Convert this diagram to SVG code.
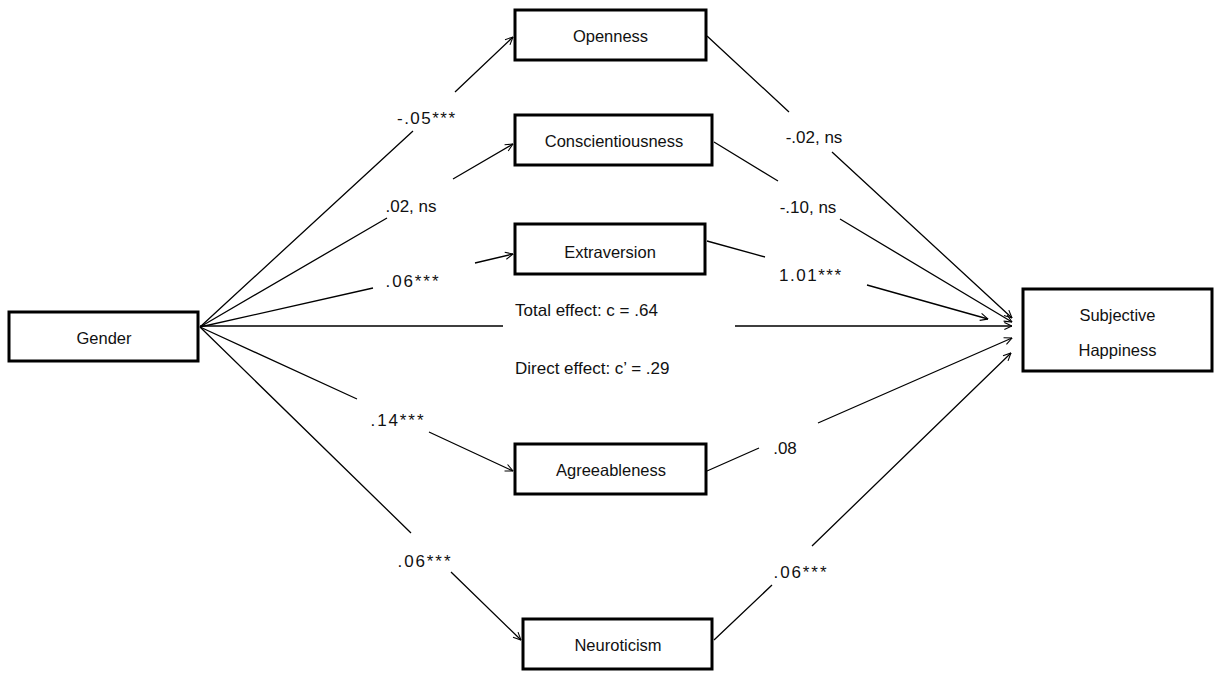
<svg xmlns="http://www.w3.org/2000/svg" width="1224" height="680" viewBox="0 0 1224 680">
<style>
.box{fill:#fff;stroke:#000;stroke-width:3}
.nl{font-family:"Liberation Sans",Arial,sans-serif;font-size:16.5px;fill:#111;text-anchor:middle}
.el{font-family:"Liberation Sans",Arial,sans-serif;font-size:17px;fill:#111;text-anchor:middle}
.tl{font-family:"Liberation Sans",Arial,sans-serif;font-size:17px;fill:#111}
.cn{fill:none;stroke:#000;stroke-width:1.3;marker-end:url(#ah)}
</style>
<defs>
<marker id="ah" viewBox="0 0 10 10" refX="9.5" refY="5" markerWidth="9" markerHeight="9" markerUnits="userSpaceOnUse" orient="auto">
<path d="M1,1 L9.5,5 L1,9" fill="none" stroke="#000" stroke-width="1.2"/>
</marker>
</defs>
<rect width="1224" height="680" fill="#fff"/>
<g id="connectors">
<path class="cn" d="M200,327 L413,131 M455,92 L513,37"/>
<path class="cn" d="M200,327 L387,218 M453,179 L513,144"/>
<path class="cn" d="M200,327 L373,288 M475,263 L513,254"/>
<path class="cn" d="M200,327 L357,399 M429,432 L513,471"/>
<path class="cn" d="M200,327 L411,533 M451,572 L521,640"/>
<path class="cn" d="M200,326 L503,326 M735,326 L1012,326"/>
<path class="cn" d="M707,36 L789,112 M832,152 L1012,318"/>
<path class="cn" d="M714,142 L778,181 M840,219 L1012,322"/>
<path class="cn" d="M707,241 L765,257 M867,285 L988,319"/>
<path class="cn" d="M707,471 L759,448 M818,423 L1012,338"/>
<path class="cn" d="M714,640 L772,585 M812,546 L1011,353"/>
</g>
<g id="edge-labels">
<text class="el" x="426" y="124" textLength="58" lengthAdjust="spacing">-.05***</text>
<text class="el" x="411" y="212">.02, ns</text>
<text class="el" x="412" y="287" textLength="53" lengthAdjust="spacing">.06***</text>
<text class="el" x="814" y="143">-.02, ns</text>
<text class="el" x="808" y="213">-.10, ns</text>
<text class="el" x="810" y="281" textLength="62" lengthAdjust="spacing">1.01***</text>
<text class="el" x="397" y="426" textLength="53" lengthAdjust="spacing">.14***</text>
<text class="el" x="424" y="567" textLength="53" lengthAdjust="spacing">.06***</text>
<text class="el" x="785" y="454">.08</text>
<text class="el" x="800" y="578" textLength="53" lengthAdjust="spacing">.06***</text>
<text class="tl" x="515" y="316">Total effect: c = .64</text>
<text class="tl" x="515" y="374">Direct effect: c’ = .29</text>
</g>
<g id="gender"><rect class="box" x="9" y="312" width="189" height="49"/><text class="nl" x="104" y="344">Gender</text></g>
<g id="openness"><rect class="box" x="515" y="10" width="191" height="50"/><text class="nl" x="610.5" y="42">Openness</text></g>
<g id="conscientiousness"><rect class="box" x="515" y="115" width="197" height="50"/><text class="nl" x="614" y="147">Conscientiousness</text></g>
<g id="extraversion"><rect class="box" x="515" y="224" width="190" height="50"/><text class="nl" x="610" y="258">Extraversion</text></g>
<g id="agreeableness"><rect class="box" x="515" y="444" width="191" height="50"/><text class="nl" x="611" y="476">Agreeableness</text></g>
<g id="neuroticism"><rect class="box" x="523" y="619" width="189" height="50"/><text class="nl" x="618" y="651">Neuroticism</text></g>
<g id="subjective-happiness"><rect class="box" x="1023" y="289" width="189" height="82"/><text class="nl" x="1117.5" y="321">Subjective</text><text class="nl" x="1117.5" y="356">Happiness</text></g>
</svg>
